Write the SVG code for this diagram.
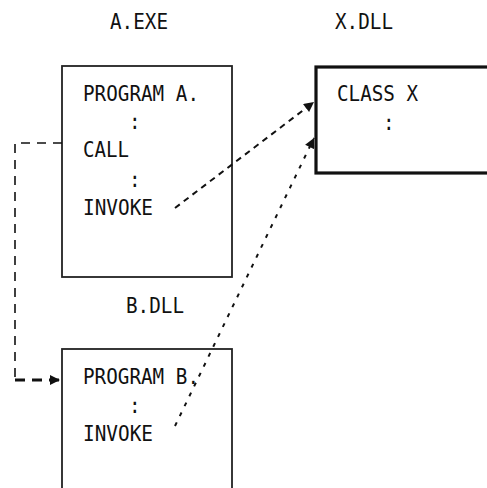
<svg xmlns="http://www.w3.org/2000/svg" width="487" height="488" viewBox="0 0 487 488">
<style>
text{font-family:"DejaVu Sans Mono","Liberation Mono",monospace;font-size:21px;fill:#111}
.box{fill:#fff;stroke:#222;stroke-width:1.8}
.thick{fill:#fff;stroke:#111;stroke-width:3.2}
.dash{fill:none;stroke:#111;stroke-width:1.6;stroke-dasharray:9 7}
.dash2{fill:none;stroke:#111;stroke-width:2;stroke-dasharray:6 5}
.dot{fill:none;stroke:#111;stroke-width:2;stroke-dasharray:4 7}
</style>
<defs>
<marker id="ah" viewBox="0 0 10 10" refX="10" refY="5" markerWidth="11" markerHeight="10" markerUnits="userSpaceOnUse" orient="auto">
<path d="M0,0 L10,5 L0,10 Z" fill="#111"/>
</marker>
</defs>
<rect width="487" height="488" fill="#fff"/>
<text x="110" y="29" textLength="58" lengthAdjust="spacingAndGlyphs">A.EXE</text>
<text x="335" y="29" textLength="58" lengthAdjust="spacingAndGlyphs">X.DLL</text>
<text x="126" y="313" textLength="58" lengthAdjust="spacingAndGlyphs">B.DLL</text>
<g id="nodeA">
<rect class="box" x="62" y="66" width="170" height="211"/>
<text x="83" y="101" textLength="116" lengthAdjust="spacingAndGlyphs">PROGRAM A.</text>
<text x="129" y="129" textLength="11.6" lengthAdjust="spacingAndGlyphs">:</text>
<text x="83" y="157" textLength="46" lengthAdjust="spacingAndGlyphs">CALL</text>
<text x="129" y="187" textLength="11.6" lengthAdjust="spacingAndGlyphs">:</text>
<text x="83" y="215" textLength="70" lengthAdjust="spacingAndGlyphs">INVOKE</text>
</g>
<g id="nodeX">
<rect class="thick" x="316" y="67" width="180" height="106"/>
<text x="337" y="101" textLength="81" lengthAdjust="spacingAndGlyphs">CLASS X</text>
<text x="383" y="130" textLength="11.6" lengthAdjust="spacingAndGlyphs">:</text>
</g>
<g id="nodeB">
<rect class="box" x="62" y="349" width="170" height="150"/>
<text x="83" y="384" textLength="116" lengthAdjust="spacingAndGlyphs">PROGRAM B.</text>
<text x="129" y="413" textLength="11.6" lengthAdjust="spacingAndGlyphs">:</text>
<text x="83" y="441" textLength="70" lengthAdjust="spacingAndGlyphs">INVOKE</text>
</g>
<g id="connectors">
<path class="dash" d="M62,143 H15 V380"/>
<path d="M15,380 H60" fill="none" stroke="#111" stroke-width="3" stroke-dasharray="10 7" marker-end="url(#ah)"/>
<path class="dash2" d="M175,208 L314,102" marker-end="url(#ah)"/>
<path class="dot" d="M175,426 L314,138" marker-end="url(#ah)"/>
</g>
</svg>
